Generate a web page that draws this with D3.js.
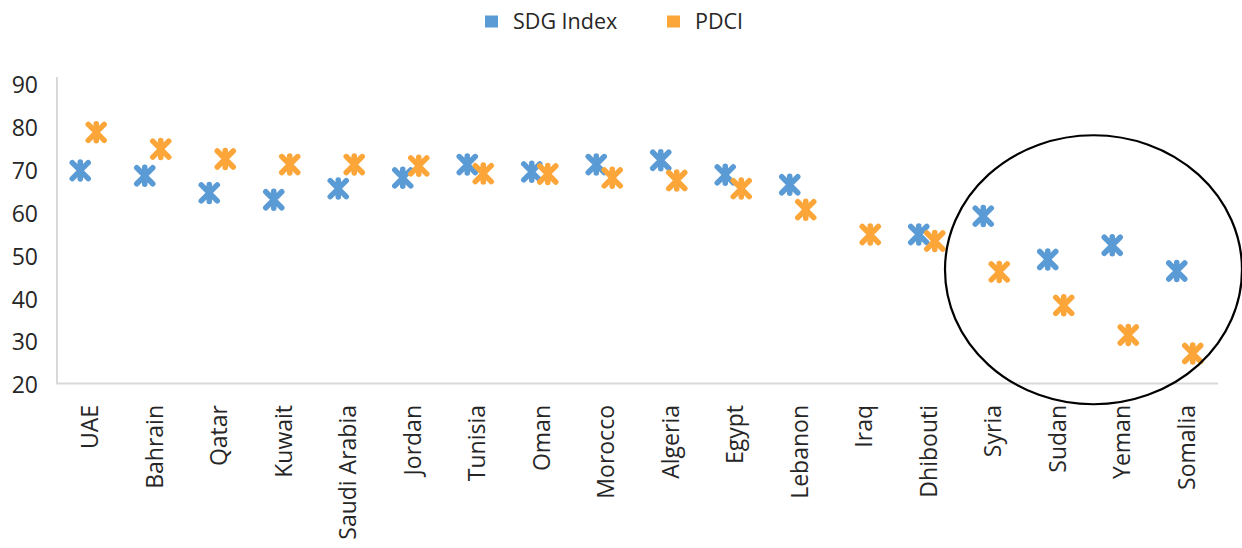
<!DOCTYPE html>
<html>
<head>
<meta charset="utf-8">
<script src="https://cdn.jsdelivr.net/npm/d3@7"></script>
<style>
  body { margin: 0; background: #fff; }
  text { font-family: "Open Sans", "Noto Sans", sans-serif; fill: #262626; }
</style>
</head>
<body>
<div id="chart"></div>
<script>
// chart size and plot area
const width = 1242;
const height = 548;
const margin = {left: 57, right: 24, top: 83, bottom: 163};

// data
const countries = ["UAE", "Bahrain", "Qatar", "Kuwait", "Saudi Arabia", "Jordan", "Tunisia", "Oman",
  "Morocco", "Algeria", "Egypt", "Lebanon", "Iraq", "Dhibouti", "Syria", "Sudan", "Yeman", "Somalia"];
const sdgIndex = [69.6, 68.4, 64.4, 62.8, 65.4, 67.9, 71.0, 69.3, 71.0, 72.0, 68.6, 66.3, null, 54.7, 59.0, 48.9, 52.2, 46.2];
const pdci = [78.5, 74.6, 72.3, 71.0, 71.0, 70.7, 68.9, 68.8, 67.9, 67.3, 65.4, 60.5, 54.7, 53.2, 46.0, 38.2, 31.3, 27.0];
const yTicks = [20, 30, 40, 50, 60, 70, 80, 90];

const series = [
  {name: "SDG Index", values: sdgIndex, color: "#5b9bd5", dx: -9},
  {name: "PDCI", values: pdci, color: "#fca63a", dx: 7}
];

const svg = d3.select("#chart")
  .append("svg")
  .attr("width", width)
  .attr("height", height);

// scales
let xScale = d3.scaleBand()
  .domain(countries)
  .range([margin.left, width - margin.right]);

let yScale = d3.scaleLinear()
  .domain([20, 90])
  .range([height - margin.bottom - 1.5, margin.top]);

// axis lines (light grey, no ticks)
svg.append("line")
  .attr("x1", margin.left).attr("x2", margin.left)
  .attr("y1", margin.top - 6).attr("y2", yScale(20))
  .attr("stroke", "#d9d9d9").attr("stroke-width", 2);

svg.append("line")
  .attr("x1", margin.left - 1).attr("x2", width - margin.right)
  .attr("y1", yScale(20)).attr("y2", yScale(20))
  .attr("stroke", "#d9d9d9").attr("stroke-width", 2);

// y axis labels
const yAxis = svg.append("g")
  .attr("transform", `translate(${margin.left}, 2)`)
  .call(d3.axisLeft(yScale).tickValues(yTicks).tickSize(0).tickPadding(19));
yAxis.select(".domain").remove();
yAxis.selectAll("text")
  .attr("font-size", "23px")
  .style("font-family", "'Open Sans', sans-serif")
  .attr("fill", "#262626");

// x axis labels, rotated
svg.append("g")
  .selectAll("text")
  .data(countries)
  .enter()
  .append("text")
    .attr("transform", d => `translate(${xScale(d) + xScale.bandwidth() / 2 + 1}, 405) rotate(-90)`)
    .attr("text-anchor", "end")
    .attr("dy", "0.35em")
    .attr("font-size", "23px")
    .text(d => d);

// asterisk markers
const starPath = "M-8,-8L8,8M-8,8L8,-8M0,-8.5L0,8.5";

series.forEach(s => {
  svg.append("g")
    .selectAll("path")
    .data(countries.map((c, i) => ({country: c, value: s.values[i]})).filter(d => d.value != null))
    .enter()
    .append("path")
      .attr("d", starPath)
      .attr("transform", d => `translate(${xScale(d.country) + xScale.bandwidth() / 2 + s.dx}, ${yScale(d.value)})`)
      .attr("stroke", s.color)
      .attr("stroke-width", 5.5)
      .attr("stroke-linecap", "round")
      .attr("fill", "none");
});

// highlight ellipse round the last four countries
const ex = (xScale("Sudan") + xScale("Yeman") + xScale.bandwidth()) / 2;
svg.append("ellipse")
  .attr("cx", ex + 4.5)
  .attr("cy", yScale(46.5))
  .attr("rx", 148.5)
  .attr("ry", 134.5)
  .attr("fill", "none")
  .attr("stroke", "#000")
  .attr("stroke-width", 2.2);

// legend
const legend = svg.append("g");
const legendX = [485, 667];
series.forEach((s, i) => {
  legend.append("rect")
    .attr("x", legendX[i]).attr("y", 15.5)
    .attr("width", 13).attr("height", 12)
    .attr("fill", s.color);
  legend.append("text")
    .attr("x", legendX[i] + 28).attr("y", 29)
    .attr("font-size", "21.5px")
    .text(s.name);
});
</script>
</body>
</html>
